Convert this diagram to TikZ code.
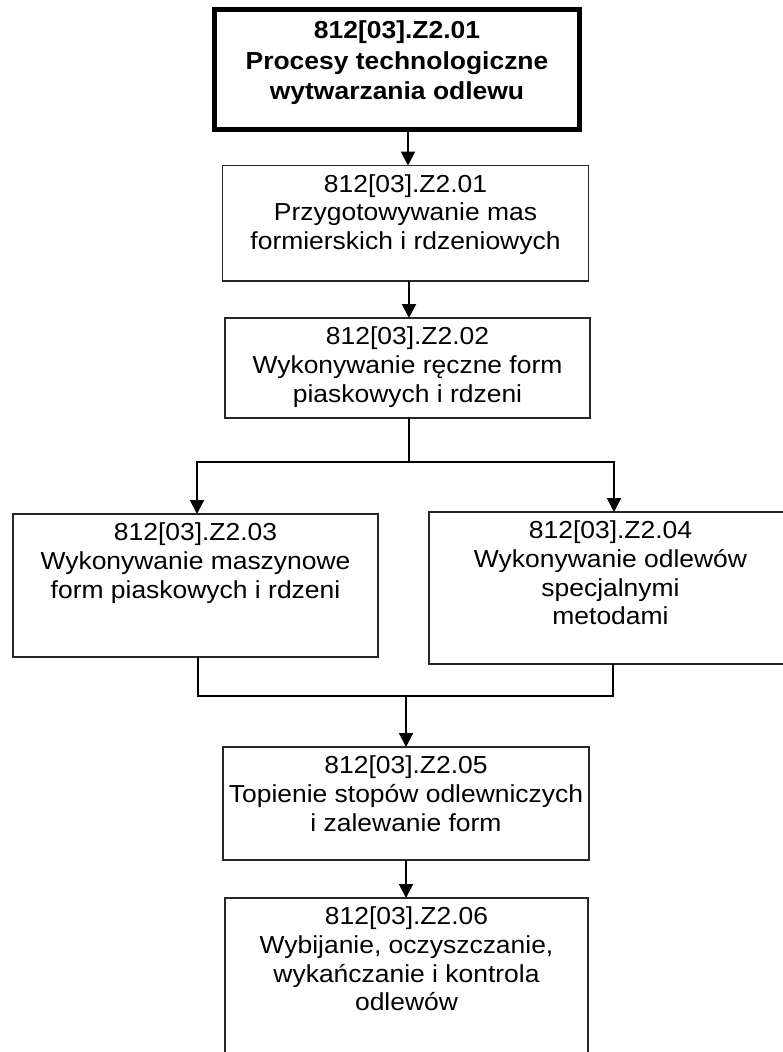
\documentclass[tikz,border=0pt]{standalone}
\usepackage{fontspec}
\setmainfont[FakeStretch=1.075]{Liberation Sans}
\usetikzlibrary{arrows.meta}
\begin{document}
\begin{tikzpicture}[x=1pt,y=-1pt,
 boxstyle/.style={draw=black!85, line width=1.4pt, rectangle, inner sep=0pt, outer sep=0pt},
 topstyle/.style={draw=black, line width=5pt, rectangle, inner sep=0pt, outer sep=0pt},
 txt/.style={anchor=north, align=center, inner sep=0pt, font=\fontsize{24.6}{28.8}\selectfont},
 btxt/.style={anchor=north, align=center, inner sep=0pt, font=\fontsize{24.6}{30.5}\selectfont\bfseries},
 conn/.style={draw=black, line width=2pt},
 arr/.style={conn, -{Triangle[length=14pt,width=14pt]}}]
\useasboundingbox (0,0) rectangle (783,1052);
\clip (0,0) rectangle (783,1052);
\fill[white] (0,0) rectangle (783,1052);

% boxes
\node[topstyle, minimum width=365pt, minimum height=120pt] (top) at (397,69.5) {};
\node[boxstyle, minimum width=366pt, minimum height=115.5pt] (b1) at (405.5,223.25) {};
\node[boxstyle, minimum width=365pt, minimum height=100pt] (b2) at (407.5,368) {};
\node[boxstyle, minimum width=365pt, minimum height=143pt] (b3) at (195.5,585.5) {};
\node[boxstyle, minimum width=365pt, minimum height=152pt] (b4) at (611.5,588) {};
\node[boxstyle, minimum width=366pt, minimum height=113pt] (b5) at (406,803.5) {};
\node[boxstyle, minimum width=363pt, minimum height=172pt] (b6) at (406.5,984) {};

% texts
\node[btxt] (t0) at ([yshift=-11pt]top.north) {812[03].Z2.01\\Procesy technologiczne\\wytwarzania odlewu};
\node[txt] (t1) at ([yshift=-8.5pt]b1.north) {812[03].Z2.01\\Przygotowywanie mas\\formierskich i rdzeniowych};
\node[txt] (t2) at ([yshift=-8.5pt]b2.north) {812[03].Z2.02\\Wykonywanie ręczne form\\piaskowych i rdzeni};
\node[txt] (t3) at ([yshift=-8.5pt]b3.north) {812[03].Z2.03\\Wykonywanie maszynowe\\form piaskowych i rdzeni};
\node[txt] (t4) at ([yshift=-8.5pt,xshift=-1pt]b4.north) {812[03].Z2.04\\Wykonywanie odlewów\\specjalnymi\\metodami};
\node[txt] (t5) at ([yshift=-8.5pt]b5.north) {812[03].Z2.05\\Topienie stopów odlewniczych\\i zalewanie form};
\node[txt] (t6) at ([yshift=-8.5pt]b6.north) {812[03].Z2.06\\Wybijanie, oczyszczanie,\\wykańczanie i kontrola\\odlewów};

% connector coordinates
\coordinate (ax1) at (408,0);
\coordinate (ax2) at (409,0);
\coordinate (sp) at (409,462);
\coordinate (sl) at (197,462);
\coordinate (sr) at (614,462);
\coordinate (ml) at (198,696);
\coordinate (mr) at (613,696);
\coordinate (mc) at (406,696);

\draw[arr] (top.south -| ax1) -- (b1.north -| ax1);
\draw[arr] (b1.south -| ax2) -- (b2.north -| ax2);
\draw[conn] (b2.south -| sp) -- (sp);
\draw[arr] (sp) -- (sl) -- (b3.north -| sl);
\draw[arr] (sp) -- (sr) -- (b4.north -| sr);
\draw[conn] (b3.south -| ml) -- (ml) -- (mr) -- (b4.south -| mr);
\draw[arr] (mc) -- (b5.north -| mc);
\draw[arr] (b5.south -| mc) -- (b6.north -| mc);
\end{tikzpicture}
\end{document}
